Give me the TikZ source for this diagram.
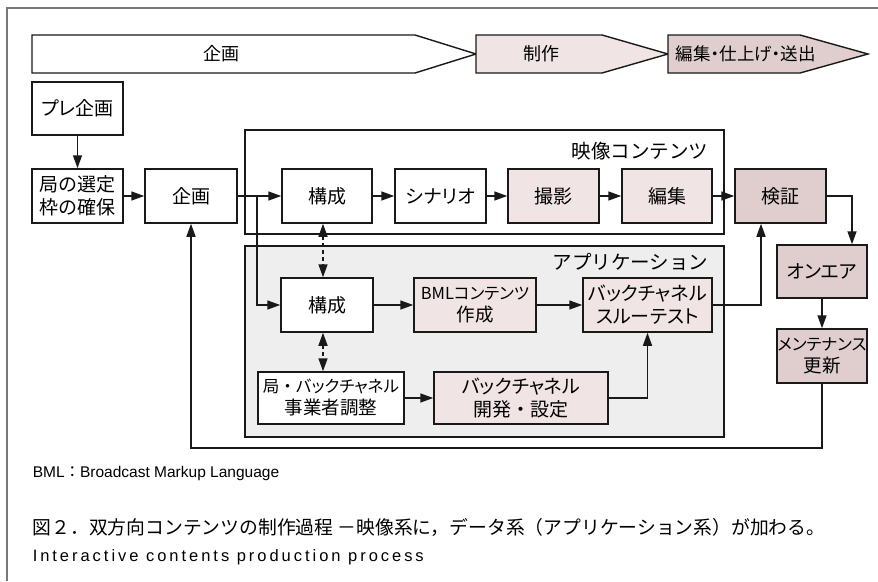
\documentclass[tikz,border=0pt]{standalone}
\usepackage{fontspec}
\setmainfont{Noto Sans CJK JP}
\newfontfamily\pfont[RawFeature=+palt]{Noto Sans CJK JP}
\newfontfamily\lib{Liberation Sans}
\newcommand{\wdot}{{\rmfamily ・}}
\usetikzlibrary{arrows.meta,calc}
\definecolor{pinkL}{RGB}{240,228,228}
\definecolor{pinkD}{RGB}{224,206,206}
\definecolor{appbg}{RGB}{238,238,238}
\definecolor{ink}{RGB}{25,25,25}
\definecolor{framegray}{RGB}{120,120,120}
\begin{document}
\begin{tikzpicture}[x=1pt,y=-1pt,line width=1.5pt,
  >={Triangle[length=13pt,width=9pt]},
  box/.style={draw=ink,fill=white,inner sep=0pt,align=center,
    font=\pfont\fontsize{19}{23}\selectfont},
  small/.style={font=\pfont\fontsize{16.5}{22}\selectfont},
  boxL/.style={box,fill=pinkL},
  boxD/.style={box,fill=pinkD},
  conn/.style={draw=ink,->},
  dconn/.style={draw=ink,<->,dashed,dash pattern=on 4pt off 3pt},
  frm/.style={draw=ink},
  tarrow/.style={draw=ink,line width=1.4pt},
  lbl/.style={inner sep=0pt,font=\fontsize{19.5}{23}\selectfont}
]
\useasboundingbox (0,0) rectangle (878,581);
% outer frame (cut at right and bottom)
\draw[framegray,line width=1.2pt] (7,581) -- (7,8) -- (878,8);

% top process arrows
\draw[tarrow,fill=white] (32,35) -- (415,35) -- (476,54) -- (415,73) -- (32,73) -- cycle;
\draw[tarrow,fill=pinkL] (476,35) -- (602,35) -- (668,54) -- (602,73) -- (476,73) -- cycle;
\draw[tarrow,fill=pinkD] (668,35) -- (800,35) -- (868,54) -- (800,73) -- (668,73) -- cycle;
\node[lbl,font=\fontsize{18}{20}\selectfont] (t1) at (221,54) {企画};
\node[lbl,font=\fontsize{18}{20}\selectfont] (t2) at (541,54) {制作};
\node[lbl,anchor=west,font=\pfont\fontsize{17.5}{20}\selectfont] (t3) at (675,54) {編集・仕上げ・送出};

% group frames
\draw[frm,fill=white] (245,130) rectangle (724,234);
\draw[frm,fill=appbg] (245,246) rectangle (724,437);
\node[lbl,anchor=east] (eizo) at (709,151) {映像コンテンツ};
\node[lbl,anchor=east] (appl) at (709,262) {アプリケーション};

% boxes
\node[box,minimum width=91pt,minimum height=53pt] (pre) at (77.5,108.5) {プレ企画};
\node[box,minimum width=91pt,minimum height=54pt] (kyoku) at (77.5,196) {局の選定\\枠の確保};
\node[box,minimum width=92pt,minimum height=54pt] (kikaku) at (191,196) {企画};
\node[box,minimum width=90pt,minimum height=54pt] (kosei1) at (327,196) {構成};
\node[box,minimum width=91pt,minimum height=54pt] (scen) at (440.5,196) {シナリオ};
\node[boxL,minimum width=91pt,minimum height=54pt] (satsu) at (553.5,196) {撮影};
\node[boxL,minimum width=90pt,minimum height=54pt] (hen) at (667,196) {編集};
\node[boxD,minimum width=91pt,minimum height=54pt] (ken) at (780.5,196) {検証};
\node[boxD,minimum width=90pt,minimum height=53pt] (onair) at (822,271.5) {オンエア};
\node[boxD,small,minimum width=90pt,minimum height=54pt] (maint) at (822,356) {メンテナンス\\{\fontsize{18.5}{22}\selectfont 更新}};
\node[box,minimum width=92pt,minimum height=54pt] (kosei2) at (327,305) {構成};
\node[boxL,small,minimum width=122pt,minimum height=54pt] (bml) at (475,305) {BMLコンテンツ\\{\fontsize{18.5}{22}\selectfont 作成}};
\node[boxL,minimum width=129pt,minimum height=54pt] (thru) at (647.5,305) {バックチャネル\\スルーテスト};
\node[box,font=\pfont\fontsize{16.5}{22}\selectfont,minimum width=146pt,minimum height=52pt] (chosei) at (331,398) {局\wdot バックチャネル\\{\fontsize{18.5}{22}\selectfont 事業者調整}};
\node[boxL,minimum width=174pt,minimum height=52pt] (kaihatsu) at (521,398) {バックチャネル\\開発\wdot 設定};

% connectors
\draw[conn] (pre) -- (kyoku);
\draw[conn] (kyoku) -- (kikaku);
\draw[conn] (kikaku) -- (kosei1);
\coordinate (br) at (257,196);
\draw[conn] (br) |- (kosei2.west);
\draw[conn] (kosei1) -- (scen);
\draw[conn] (scen) -- (satsu);
\draw[conn] (satsu) -- (hen);
\draw[conn] (hen) -- (ken);
\draw[conn] (ken.east) -| ([xshift=30pt]onair.north);
\draw[conn] (onair) -- (maint);
\coordinate (fb) at (822,448);
\draw[conn] (maint.south) -- (fb) -| (kikaku.south);
\draw[conn] (kosei2) -- (bml);
\draw[conn] (bml) -- (thru);
\draw[conn] (thru.east) -| ([xshift=-19.5pt]ken.south);
\draw[conn] (chosei) -- (kaihatsu);
\draw[conn] (kaihatsu.east) -| (thru.south);
\coordinate (dx) at ([xshift=-4pt]kosei2.south);
\draw[dconn] ([xshift=-4pt]kosei1.south) -- ([xshift=-4pt]kosei2.north);
\draw[dconn] (dx) -- (chosei.north -| dx);

% captions
\node[anchor=west,inner sep=0pt,font=\lib\fontsize{15.5}{17}\selectfont] (note) at (32,473) {BML{\rmfamily ：}Broadcast Markup Language};
\node[anchor=west,inner sep=0pt,font=\fontsize{18.8}{22}\selectfont] (cap1) at (32,527) {図２．双方向コンテンツの制作過程 －映像系に，データ系（アプリケーション系）が加わる。};
\node[anchor=west,inner sep=0pt,font=\lib\fontsize{16.5}{20}\selectfont\addfontfeature{LetterSpace=18}] (cap2) at (32,557) {Interactive contents production process};
\end{tikzpicture}
\end{document}
